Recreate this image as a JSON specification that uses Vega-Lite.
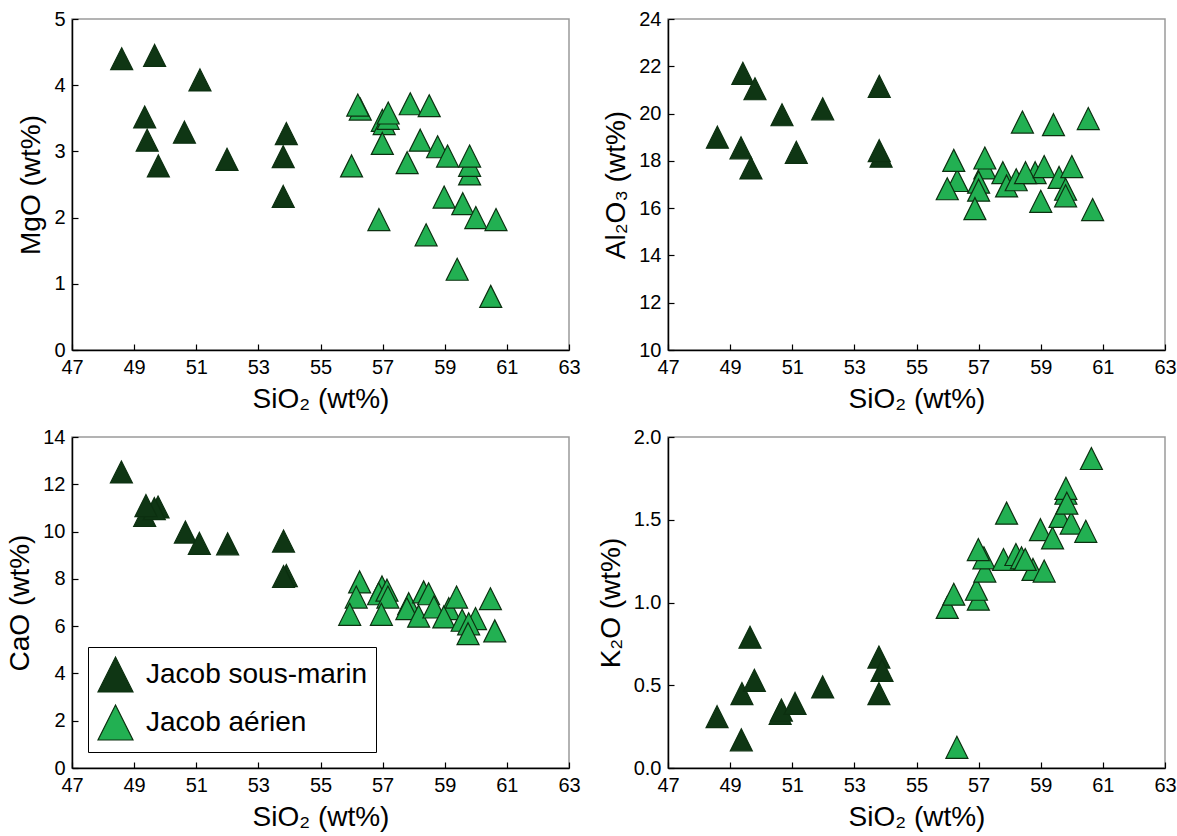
{
  "$schema": "https://vega.github.io/schema/vega-lite/v6.json",
  "background": "white",
  "padding": {"left": 6, "top": 8, "right": 4, "bottom": 4},
  "datasets": {
    "d": [
      {"p":"MgO","g":"Jacob sous-marin","s":48.6,"v":4.40},
      {"p":"MgO","g":"Jacob sous-marin","s":49.66,"v":4.45},
      {"p":"MgO","g":"Jacob sous-marin","s":51.12,"v":4.08},
      {"p":"MgO","g":"Jacob sous-marin","s":49.34,"v":3.52},
      {"p":"MgO","g":"Jacob sous-marin","s":49.42,"v":3.17},
      {"p":"MgO","g":"Jacob sous-marin","s":49.78,"v":2.78},
      {"p":"MgO","g":"Jacob sous-marin","s":50.62,"v":3.29},
      {"p":"MgO","g":"Jacob sous-marin","s":51.99,"v":2.88},
      {"p":"MgO","g":"Jacob sous-marin","s":53.9,"v":3.27},
      {"p":"MgO","g":"Jacob sous-marin","s":53.8,"v":2.92},
      {"p":"MgO","g":"Jacob sous-marin","s":53.8,"v":2.32},
      {"p":"MgO","g":"Jacob aérien","s":56.0,"v":2.78},
      {"p":"MgO","g":"Jacob aérien","s":56.28,"v":3.64},
      {"p":"MgO","g":"Jacob aérien","s":56.2,"v":3.70},
      {"p":"MgO","g":"Jacob aérien","s":56.99,"v":3.47},
      {"p":"MgO","g":"Jacob aérien","s":57.05,"v":3.42},
      {"p":"MgO","g":"Jacob aérien","s":57.18,"v":3.50},
      {"p":"MgO","g":"Jacob aérien","s":57.18,"v":3.58},
      {"p":"MgO","g":"Jacob aérien","s":56.99,"v":3.12},
      {"p":"MgO","g":"Jacob aérien","s":56.88,"v":1.97},
      {"p":"MgO","g":"Jacob aérien","s":57.89,"v":3.72},
      {"p":"MgO","g":"Jacob aérien","s":58.5,"v":3.69},
      {"p":"MgO","g":"Jacob aérien","s":58.21,"v":3.17},
      {"p":"MgO","g":"Jacob aérien","s":57.79,"v":2.83},
      {"p":"MgO","g":"Jacob aérien","s":58.77,"v":3.07},
      {"p":"MgO","g":"Jacob aérien","s":59.09,"v":2.93},
      {"p":"MgO","g":"Jacob aérien","s":59.8,"v":2.66},
      {"p":"MgO","g":"Jacob aérien","s":59.8,"v":2.79},
      {"p":"MgO","g":"Jacob aérien","s":59.8,"v":2.93},
      {"p":"MgO","g":"Jacob aérien","s":58.98,"v":2.31},
      {"p":"MgO","g":"Jacob aérien","s":59.58,"v":2.21},
      {"p":"MgO","g":"Jacob aérien","s":60.0,"v":2.00},
      {"p":"MgO","g":"Jacob aérien","s":60.65,"v":1.97},
      {"p":"MgO","g":"Jacob aérien","s":58.4,"v":1.74},
      {"p":"MgO","g":"Jacob aérien","s":59.4,"v":1.22},
      {"p":"MgO","g":"Jacob aérien","s":60.48,"v":0.81},

      {"p":"Al2O3","g":"Jacob sous-marin","s":48.59,"v":19.0},
      {"p":"Al2O3","g":"Jacob sous-marin","s":49.41,"v":21.7},
      {"p":"Al2O3","g":"Jacob sous-marin","s":49.8,"v":21.05},
      {"p":"Al2O3","g":"Jacob sous-marin","s":49.35,"v":18.55},
      {"p":"Al2O3","g":"Jacob sous-marin","s":49.67,"v":17.7},
      {"p":"Al2O3","g":"Jacob sous-marin","s":50.67,"v":19.95},
      {"p":"Al2O3","g":"Jacob sous-marin","s":51.13,"v":18.36},
      {"p":"Al2O3","g":"Jacob sous-marin","s":51.98,"v":20.2},
      {"p":"Al2O3","g":"Jacob sous-marin","s":53.8,"v":21.15},
      {"p":"Al2O3","g":"Jacob sous-marin","s":53.86,"v":18.2},
      {"p":"Al2O3","g":"Jacob sous-marin","s":53.8,"v":18.43},
      {"p":"Al2O3","g":"Jacob aérien","s":58.41,"v":19.64},
      {"p":"Al2O3","g":"Jacob aérien","s":59.41,"v":19.53},
      {"p":"Al2O3","g":"Jacob aérien","s":60.53,"v":19.79},
      {"p":"Al2O3","g":"Jacob aérien","s":56.31,"v":17.17},
      {"p":"Al2O3","g":"Jacob aérien","s":55.99,"v":16.82},
      {"p":"Al2O3","g":"Jacob aérien","s":56.2,"v":18.02},
      {"p":"Al2O3","g":"Jacob aérien","s":57.2,"v":17.7},
      {"p":"Al2O3","g":"Jacob aérien","s":57.2,"v":18.12},
      {"p":"Al2O3","g":"Jacob aérien","s":57.0,"v":17.1},
      {"p":"Al2O3","g":"Jacob aérien","s":57.0,"v":16.76},
      {"p":"Al2O3","g":"Jacob aérien","s":56.88,"v":15.98},
      {"p":"Al2O3","g":"Jacob aérien","s":57.78,"v":17.5},
      {"p":"Al2O3","g":"Jacob aérien","s":57.9,"v":16.94},
      {"p":"Al2O3","g":"Jacob aérien","s":58.21,"v":17.2},
      {"p":"Al2O3","g":"Jacob aérien","s":58.82,"v":17.5},
      {"p":"Al2O3","g":"Jacob aérien","s":58.51,"v":17.5},
      {"p":"Al2O3","g":"Jacob aérien","s":59.11,"v":17.76},
      {"p":"Al2O3","g":"Jacob aérien","s":59.0,"v":16.29},
      {"p":"Al2O3","g":"Jacob aérien","s":59.59,"v":17.3},
      {"p":"Al2O3","g":"Jacob aérien","s":59.8,"v":16.8},
      {"p":"Al2O3","g":"Jacob aérien","s":59.8,"v":16.52},
      {"p":"Al2O3","g":"Jacob aérien","s":60.0,"v":17.76},
      {"p":"Al2O3","g":"Jacob aérien","s":60.67,"v":15.94},

      {"p":"CaO","g":"Jacob sous-marin","s":48.59,"v":12.52},
      {"p":"CaO","g":"Jacob sous-marin","s":49.34,"v":10.68},
      {"p":"CaO","g":"Jacob sous-marin","s":49.77,"v":11.04},
      {"p":"CaO","g":"Jacob sous-marin","s":49.65,"v":10.97},
      {"p":"CaO","g":"Jacob sous-marin","s":49.38,"v":11.1},
      {"p":"CaO","g":"Jacob sous-marin","s":50.65,"v":9.98},
      {"p":"CaO","g":"Jacob sous-marin","s":51.1,"v":9.5},
      {"p":"CaO","g":"Jacob sous-marin","s":52.01,"v":9.48},
      {"p":"CaO","g":"Jacob sous-marin","s":53.81,"v":9.6},
      {"p":"CaO","g":"Jacob sous-marin","s":53.9,"v":8.14},
      {"p":"CaO","g":"Jacob sous-marin","s":53.81,"v":8.1},
      {"p":"CaO","g":"Jacob aérien","s":56.26,"v":7.87},
      {"p":"CaO","g":"Jacob aérien","s":56.15,"v":7.23},
      {"p":"CaO","g":"Jacob aérien","s":55.94,"v":6.5},
      {"p":"CaO","g":"Jacob aérien","s":56.98,"v":7.66},
      {"p":"CaO","g":"Jacob aérien","s":56.87,"v":7.37},
      {"p":"CaO","g":"Jacob aérien","s":57.14,"v":7.52},
      {"p":"CaO","g":"Jacob aérien","s":57.17,"v":7.23},
      {"p":"CaO","g":"Jacob aérien","s":56.96,"v":6.5},
      {"p":"CaO","g":"Jacob aérien","s":57.84,"v":6.95},
      {"p":"CaO","g":"Jacob aérien","s":57.78,"v":6.74},
      {"p":"CaO","g":"Jacob aérien","s":58.16,"v":6.42},
      {"p":"CaO","g":"Jacob aérien","s":58.32,"v":7.45},
      {"p":"CaO","g":"Jacob aérien","s":58.48,"v":7.37},
      {"p":"CaO","g":"Jacob aérien","s":58.65,"v":6.81},
      {"p":"CaO","g":"Jacob aérien","s":59.13,"v":6.74},
      {"p":"CaO","g":"Jacob aérien","s":58.97,"v":6.39},
      {"p":"CaO","g":"Jacob aérien","s":59.38,"v":7.23},
      {"p":"CaO","g":"Jacob aérien","s":59.56,"v":6.25},
      {"p":"CaO","g":"Jacob aérien","s":59.99,"v":6.32},
      {"p":"CaO","g":"Jacob aérien","s":59.77,"v":6.1},
      {"p":"CaO","g":"Jacob aérien","s":59.75,"v":5.68},
      {"p":"CaO","g":"Jacob aérien","s":60.47,"v":7.16},
      {"p":"CaO","g":"Jacob aérien","s":60.61,"v":5.8},

      {"p":"K2O","g":"Jacob sous-marin","s":48.58,"v":0.31},
      {"p":"K2O","g":"Jacob sous-marin","s":49.36,"v":0.17},
      {"p":"K2O","g":"Jacob sous-marin","s":49.38,"v":0.45},
      {"p":"K2O","g":"Jacob sous-marin","s":49.64,"v":0.79},
      {"p":"K2O","g":"Jacob sous-marin","s":49.78,"v":0.53},
      {"p":"K2O","g":"Jacob sous-marin","s":50.61,"v":0.33},
      {"p":"K2O","g":"Jacob sous-marin","s":50.65,"v":0.35},
      {"p":"K2O","g":"Jacob sous-marin","s":51.09,"v":0.39},
      {"p":"K2O","g":"Jacob sous-marin","s":51.98,"v":0.49},
      {"p":"K2O","g":"Jacob sous-marin","s":53.79,"v":0.67},
      {"p":"K2O","g":"Jacob sous-marin","s":53.89,"v":0.59},
      {"p":"K2O","g":"Jacob sous-marin","s":53.79,"v":0.45},
      {"p":"K2O","g":"Jacob aérien","s":56.3,"v":0.125},
      {"p":"K2O","g":"Jacob aérien","s":55.99,"v":0.97},
      {"p":"K2O","g":"Jacob aérien","s":56.2,"v":1.05},
      {"p":"K2O","g":"Jacob aérien","s":56.99,"v":1.02},
      {"p":"K2O","g":"Jacob aérien","s":56.93,"v":1.08},
      {"p":"K2O","g":"Jacob aérien","s":57.2,"v":1.19},
      {"p":"K2O","g":"Jacob aérien","s":57.17,"v":1.27},
      {"p":"K2O","g":"Jacob aérien","s":56.99,"v":1.32},
      {"p":"K2O","g":"Jacob aérien","s":57.8,"v":1.26},
      {"p":"K2O","g":"Jacob aérien","s":57.9,"v":1.54},
      {"p":"K2O","g":"Jacob aérien","s":58.2,"v":1.29},
      {"p":"K2O","g":"Jacob aérien","s":58.38,"v":1.27},
      {"p":"K2O","g":"Jacob aérien","s":58.75,"v":1.2},
      {"p":"K2O","g":"Jacob aérien","s":58.5,"v":1.26},
      {"p":"K2O","g":"Jacob aérien","s":58.99,"v":1.44},
      {"p":"K2O","g":"Jacob aérien","s":59.11,"v":1.19},
      {"p":"K2O","g":"Jacob aérien","s":59.38,"v":1.39},
      {"p":"K2O","g":"Jacob aérien","s":59.62,"v":1.52},
      {"p":"K2O","g":"Jacob aérien","s":59.98,"v":1.48},
      {"p":"K2O","g":"Jacob aérien","s":59.81,"v":1.66},
      {"p":"K2O","g":"Jacob aérien","s":59.81,"v":1.69},
      {"p":"K2O","g":"Jacob aérien","s":59.84,"v":1.6},
      {"p":"K2O","g":"Jacob aérien","s":60.45,"v":1.43},
      {"p":"K2O","g":"Jacob aérien","s":60.63,"v":1.87}
    ]
  },
  "columns": 2,
  "spacing": {"row": 12, "column": 15},
  "concat": [
    {
      "width": 497, "height": 331,
      "data": {"name": "d"},
      "transform": [{"filter": "datum.p === 'MgO'"}],
      "mark": {"type": "point", "filled": true, "shape": "M0,-1L1,1L-1,1Z", "size": 484, "stroke": "#0c3010", "strokeWidth": 1.2, "opacity": 1},
      "encoding": {
        "x": {"field": "s", "type": "quantitative", "scale": {"domain": [47, 63], "nice": false, "zero": false}, "axis": {"values": [47,49,51,53,55,57,59,61,63], "title": "SiO₂ (wt%)"}},
        "y": {"field": "v", "type": "quantitative", "scale": {"domain": [0, 5], "nice": false, "zero": false}, "axis": {"values": [0,1,2,3,4,5], "title": "MgO (wt%)"}},
        "fill": {"field": "g", "type": "nominal", "scale": {"domain": ["Jacob sous-marin", "Jacob aérien"], "range": ["#0f3614", "#22b052"]}, "legend": null}
      }
    },
    {
      "width": 497, "height": 331,
      "data": {"name": "d"},
      "transform": [{"filter": "datum.p === 'Al2O3'"}],
      "mark": {"type": "point", "filled": true, "shape": "M0,-1L1,1L-1,1Z", "size": 484, "stroke": "#0c3010", "strokeWidth": 1.2, "opacity": 1},
      "encoding": {
        "x": {"field": "s", "type": "quantitative", "scale": {"domain": [47, 63], "nice": false, "zero": false}, "axis": {"values": [47,49,51,53,55,57,59,61,63], "title": "SiO₂ (wt%)"}},
        "y": {"field": "v", "type": "quantitative", "scale": {"domain": [10, 24], "nice": false, "zero": false}, "axis": {"values": [10,12,14,16,18,20,22,24], "title": "Al₂O₃ (wt%)"}},
        "fill": {"field": "g", "type": "nominal", "scale": {"domain": ["Jacob sous-marin", "Jacob aérien"], "range": ["#0f3614", "#22b052"]}, "legend": null}
      }
    },
    {
      "width": 497, "height": 331,
      "data": {"name": "d"},
      "transform": [{"filter": "datum.p === 'CaO'"}],
      "mark": {"type": "point", "filled": true, "shape": "M0,-1L1,1L-1,1Z", "size": 484, "stroke": "#0c3010", "strokeWidth": 1.2, "opacity": 1},
      "encoding": {
        "x": {"field": "s", "type": "quantitative", "scale": {"domain": [47, 63], "nice": false, "zero": false}, "axis": {"values": [47,49,51,53,55,57,59,61,63], "title": "SiO₂ (wt%)"}},
        "y": {"field": "v", "type": "quantitative", "scale": {"domain": [0, 14], "nice": false, "zero": false}, "axis": {"values": [0,2,4,6,8,10,12,14], "title": "CaO (wt%)"}},
        "fill": {"field": "g", "type": "nominal", "scale": {"domain": ["Jacob sous-marin", "Jacob aérien"], "range": ["#0f3614", "#22b052"]},
          "legend": {"orient": "bottom-left", "offset": 16, "title": null, "labelFontSize": 28, "labelColor": "#000", "labelLimit": 0, "symbolSize": 1225, "symbolType": "M0,-1L1,1L-1,1Z", "symbolStrokeColor": "#0c3010", "symbolStrokeWidth": 1.2, "symbolOpacity": 1, "strokeColor": "#000", "fillColor": "white", "padding": 9, "rowPadding": 7, "labelOffset": 12}}
      }
    },
    {
      "width": 497, "height": 331,
      "data": {"name": "d"},
      "transform": [{"filter": "datum.p === 'K2O'"}],
      "mark": {"type": "point", "filled": true, "shape": "M0,-1L1,1L-1,1Z", "size": 484, "stroke": "#0c3010", "strokeWidth": 1.2, "opacity": 1},
      "encoding": {
        "x": {"field": "s", "type": "quantitative", "scale": {"domain": [47, 63], "nice": false, "zero": false}, "axis": {"values": [47,49,51,53,55,57,59,61,63], "title": "SiO₂ (wt%)"}},
        "y": {"field": "v", "type": "quantitative", "scale": {"domain": [0, 2], "nice": false, "zero": false}, "axis": {"values": [0,0.5,1,1.5,2], "format": ".1f", "title": "K₂O (wt%)"}},
        "fill": {"field": "g", "type": "nominal", "scale": {"domain": ["Jacob sous-marin", "Jacob aérien"], "range": ["#0f3614", "#22b052"]}, "legend": null}
      }
    }
  ],
  "resolve": {"legend": {"fill": "independent"}},
  "config": {
    "font": "Liberation Sans",
    "view": {"stroke": "#9a9a9a", "strokeWidth": 1.5},
    "axis": {
      "grid": false,
      "domainColor": "#000", "domainWidth": 1.5,
      "tickColor": "#000", "tickWidth": 1.2, "tickSize": -6,
      "labelFontSize": 20, "labelColor": "#000", "labelPadding": 13, "labelFlush": false, "labelOverlap": false,
      "titleFontSize": 28, "titleFontWeight": "normal", "titleColor": "#000", "titlePadding": 8
    }
  }
}
